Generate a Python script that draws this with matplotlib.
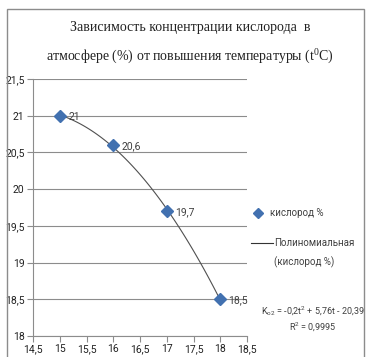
import numpy as np
import matplotlib
matplotlib.use("Agg")
import matplotlib.pyplot as plt
from matplotlib.patches import Rectangle
from matplotlib.lines import Line2D

temps = [15, 16, 17, 18]
oxygen = [21, 20.6, 19.7, 18.5]
point_labels = ["21", "20,6", "19,7", "18,5"]
poly = [-0.2, 5.76, -20.39]
x_ticks = [14.5, 15, 15.5, 16, 16.5, 17, 17.5, 18, 18.5]
y_ticks = [18, 18.5, 19, 19.5, 20, 20.5, 21, 21.5]

BLUE = "#4271b0"
GRID = "#8c8c8c"
TXT = "#404040"
SANS = ["Roboto", "DejaVu Sans"]
SERIF = ["Liberation Serif", "DejaVu Serif"]

plt.rcParams["mathtext.fontset"] = "custom"
plt.rcParams["mathtext.rm"] = "Liberation Serif"
plt.rcParams["mathtext.sf"] = "Roboto"

fig = plt.figure(figsize=(3.66, 3.57), dpi=100)
fig.patch.set_facecolor("white")
fig.patches.append(Rectangle((7 / 366, -0.1), 357 / 366, 1.1 - 9 / 357,
                             transform=fig.transFigure, fill=False,
                             edgecolor="#8c8c8c", lw=1.0))

ax = fig.add_axes([33 / 366, 1 - 336 / 357, 214 / 366, 257 / 357])
ax.set_xlim(14.5, 18.5)
ax.set_ylim(18, 21.5)
ax.set_xticks(x_ticks)
ax.set_yticks(y_ticks)
fmt = lambda v: (f"{v:g}").replace(".", ",")
ax.set_xticklabels([fmt(v) for v in x_ticks], family=SANS, fontsize=7.5, color="#222222")
ax.set_yticklabels([fmt(v) for v in y_ticks], family=SANS, fontsize=7.5, color="#222222")
ax.tick_params(direction="out", length=4, width=0.8, color=GRID, pad=2)
for s in ["top", "right"]:
    ax.spines[s].set_visible(False)
for s in ["left", "bottom"]:
    ax.spines[s].set_color(GRID)
    ax.spines[s].set_linewidth(0.8)
ax.grid(axis="y", color=GRID, lw=0.8)
ax.set_axisbelow(True)

# polynomial trend over the measured range
tt = np.linspace(temps[0], temps[-1], 100)
ax.plot(tt, np.polyval(poly, tt), color="#505050", lw=0.8, zorder=3)
ax.plot(temps, oxygen, ls="none", marker="D", ms=6, color=BLUE, zorder=4, clip_on=False)
for t, o, lab in zip(temps, oxygen, point_labels):
    ax.annotate(lab, (t, o), xytext=(6, -1), textcoords="offset points",
                va="center", ha="left", family=SANS, fontsize=7.5, color=TXT)

fig.text(190 / 366, 1 - 28 / 357, "Зависимость концентрации кислорода  в",
         ha="center", va="center", family=SERIF, fontsize=10, color="#222222")
fig.text(190 / 366, 1 - 56 / 357, r"атмосфере (%) от повышения температуры (t$^{\mathrm{0}}$C)",
         ha="center", va="center", family=SERIF, fontsize=10, color="#222222")

# legend entries
fig.add_artist(Line2D([258 / 366], [1 - 213 / 357], marker="D", ms=5, color=BLUE,
                      transform=fig.transFigure))
fig.text(270 / 366, 1 - 213 / 357, "кислород %", ha="left", va="center",
         family=SANS, fontsize=7, color=TXT)
fig.add_artist(Line2D([251 / 366, 273 / 366], [1 - 243 / 357] * 2, color="#333333",
                      lw=0.8, transform=fig.transFigure))
fig.text(274 / 366, 1 - 243 / 357, "Полиномиальная", ha="left", va="center",
         family=SANS, fontsize=7, color=TXT)
fig.text(274 / 366, 1 - 262 / 357, "(кислород %)", ha="left", va="center",
         family=SANS, fontsize=7, color=TXT)
fig.text(313 / 366, 1 - 311 / 357, r"K$_{\mathsf{o2}}$ = -0,2t$^{\mathsf{2}}$ + 5,76t - 20,39",
         ha="center", va="center", family=SANS, fontsize=6.5, color=TXT)
fig.text(313 / 366, 1 - 327 / 357, r"R$^{\mathsf{2}}$ = 0,9995", ha="center", va="center",
         family=SANS, fontsize=6.5, color=TXT)

fig.savefig("out.png", dpi=100)
